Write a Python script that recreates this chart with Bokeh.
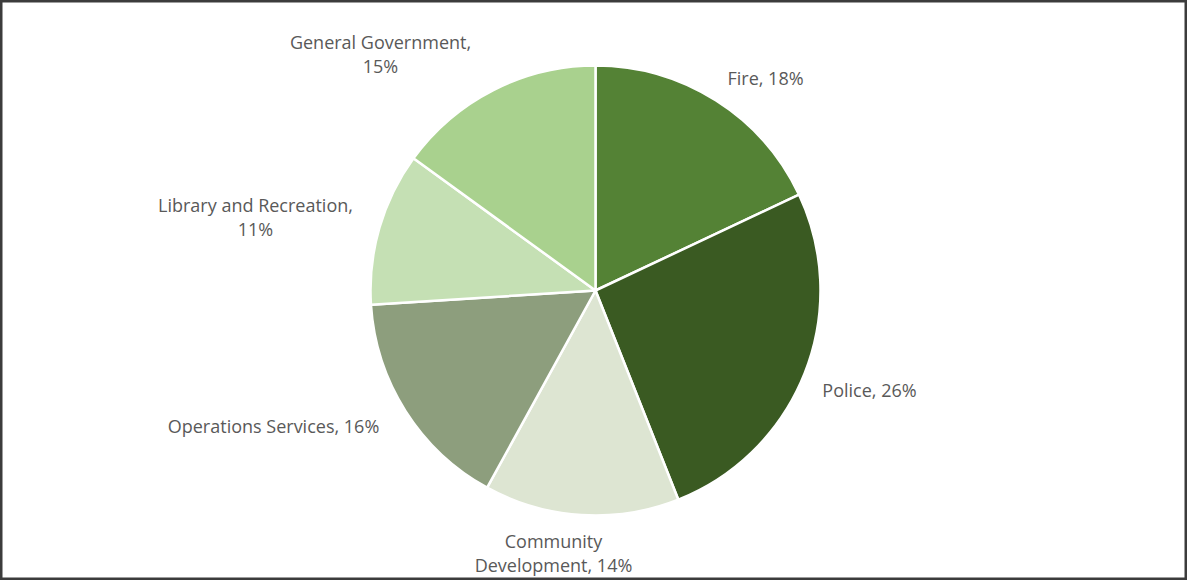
import math
from bokeh.plotting import figure
from bokeh.models import Range1d, ColumnDataSource
from bokeh.core.properties import value
from bokeh.embed import file_html
from bokeh.resources import INLINE

# ---- data ----
categories = ["Fire", "Police", "Community Development", "Operations Services",
              "Library and Recreation", "General Government"]
shares = [18, 26, 14, 16, 11, 15]
colors = ["#548235", "#3a5a22", "#dde5d2", "#8d9e7d", "#c5e0b4", "#a9d18e"]
label_lines = [["Fire, 18%"], ["Police, 26%"], ["Community", "Development, 14%"],
               ["Operations Services, 16%"], ["Library and Recreation,", "11%"],
               ["General Government,", "15%"]]

# ---- layout ----
W, H = 1187, 580
cx, cy, R = 595, H - 290, 225
# label anchor (centre of text block) in image coords
label_pos = [(765, 77), (869, 389), (553, 552), (273, 425), (255, 216), (380, 53)]
line_h = 24

p = figure(width=W, height=H, output_backend="svg", toolbar_location=None,
           x_range=Range1d(0, W), y_range=Range1d(0, H), min_border=0,
           match_aspect=False)
p.axis.visible = False
p.grid.visible = False
p.outline_line_color = "#3c3c3c"
p.outline_line_width = 4
p.background_fill_color = "white"
p.border_fill_color = "white"

total = sum(shares)
starts, ends = [], []
cum = 0.0
for s in shares:
    a0 = math.pi / 2 - 2 * math.pi * cum / total
    cum += s
    a1 = math.pi / 2 - 2 * math.pi * cum / total
    starts.append(a1)
    ends.append(a0)

src = ColumnDataSource(dict(start=starts, end=ends, color=colors, cat=categories))
p.wedge(x=cx, y=cy, radius=R, start_angle="start", end_angle="end",
        fill_color="color", line_color="white", line_width=2.5, source=src)

tx, ty, tt = [], [], []
for lines, (lx, ly) in zip(label_lines, label_pos):
    n = len(lines)
    for i, t in enumerate(lines):
        yy = ly + (i - (n - 1) / 2) * line_h
        tx.append(lx)
        ty.append(H - yy)
        tt.append(t)

p.text(x=tx, y=ty, text=tt, text_align="center", text_baseline="middle",
       text_font=value("Open Sans"), text_font_size="18px", text_color="#595959")

open("out.html", "w").write(file_html(p, INLINE))
